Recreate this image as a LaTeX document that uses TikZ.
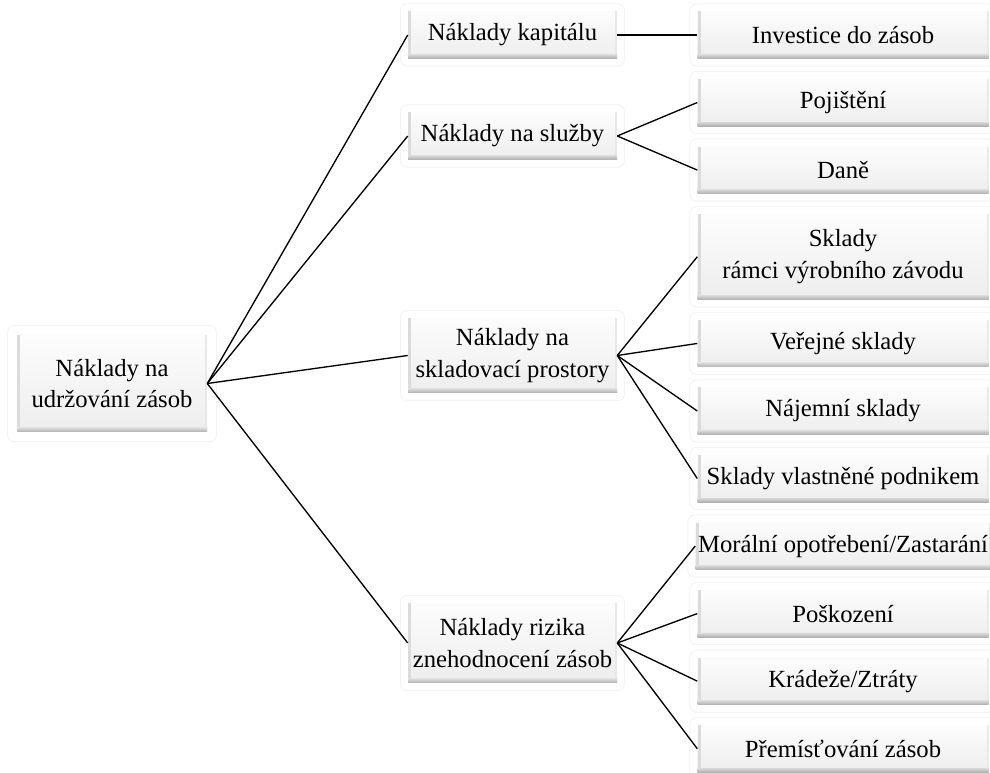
\documentclass[tikz,border=0pt]{standalone}
\usepackage{fontspec}
\setmainfont{Liberation Serif}
\usetikzlibrary{positioning, backgrounds}

\begin{document}
\begin{tikzpicture}[
    x=0.75pt, y=-0.75pt,
    box/.style={rectangle, inner sep=2pt, align=center, font=\fontsize{18.5}{23.5}\selectfont,
        top color=gray!2, bottom color=gray!14,
        path picture={
            \fill[gray!28] (path picture bounding box.south west) rectangle ([xshift=2.4pt]path picture bounding box.north west);
            \fill[gray!18] ([xshift=-1.2pt]path picture bounding box.south east) rectangle (path picture bounding box.north east);
            \shade[top color=gray!30, bottom color=gray!62] (path picture bounding box.south west) rectangle ([yshift=3pt]path picture bounding box.south east);
        }},
    root/.style={box, minimum width=142.5pt, minimum height=72.75pt},
    cost/.style={box, minimum width=156.75pt, minimum height=35.25pt},
    item/.style={box, minimum width=218.25pt, minimum height=35.25pt},
    glow/.style={draw=gray!9, line width=0.8pt, fill=white, rounded corners=5pt},
    link/.style={black, line width=1pt}
]
    \useasboundingbox (0,0) rectangle (990,773);

    % Root
    \node[root] (udrz) at (112,383.5) {Náklady na\\udržování zásob};

    % Cost groups
    \node[cost] (kapital) at (512.5,35) {Náklady kapitálu};
    \node[cost] (sluzby) at (512.5,136) {Náklady na služby};
    \node[cost, minimum height=56pt] (sklad) at (512.5,355.5) {Náklady na\\skladovací prostory};
    \node[cost, minimum height=60pt] (riziko) at (512.5,643) {Náklady rizika\\znehodnocení zásob};

    % Items
    \node[item, right=60pt of kapital] (investice) {Investice do zásob};
    \node[item, below=15pt of investice] (pojisteni) {Pojištění};
    \node[item, below=15pt of pojisteni] (dane) {Daně};
    \node[item, below=15pt of dane, minimum height=64pt] (ramci) {Sklady\\rámci výrobního závodu};
    \node[item, below=15pt of ramci] (verejne) {Veřejné sklady};
    \node[item, below=15pt of verejne] (najemni) {Nájemní sklady};
    \node[item, below=15pt of najemni] (vlastni) {Sklady vlastněné podnikem};
    \node[item, below=15pt of vlastni] (moralni) {Morální opotřebení/Zastarání};
    \node[item, below=15pt of moralni] (poskozeni) {Poškození};
    \node[item, below=15pt of poskozeni] (kradeze) {Krádeže/Ztráty};
    \node[item, below=15pt of kradeze] (premisteni) {Přemísťování zásob};

    % Glow behind the boxes
    \begin{scope}[on background layer]
        \draw[glow] ([shift={(-7pt,7pt)}]udrz.north west) rectangle ([shift={(7pt,-7pt)}]udrz.south east);
        \foreach \n in {kapital, sluzby, sklad, riziko, investice, pojisteni, dane, ramci,
                        verejne, najemni, vlastni, moralni, poskozeni, kradeze, premisteni}
            \draw[glow] ([shift={(-5.5pt,5.5pt)}]\n.north west) rectangle ([shift={(5.5pt,-5.5pt)}]\n.south east);
    \end{scope}

    % Links
    \foreach \n in {kapital, sluzby, sklad, riziko}
        \draw[link] (udrz.east) -- (\n.west);
    \draw[link] (kapital.east) -- (investice.west);
    \foreach \n in {pojisteni, dane}
        \draw[link] (sluzby.east) -- (\n.west);
    \foreach \n in {ramci, verejne, najemni, vlastni}
        \draw[link] (sklad.east) -- (\n.west);
    \foreach \n in {moralni, poskozeni, kradeze, premisteni}
        \draw[link] (riziko.east) -- (\n.west);
\end{tikzpicture}
\end{document}
